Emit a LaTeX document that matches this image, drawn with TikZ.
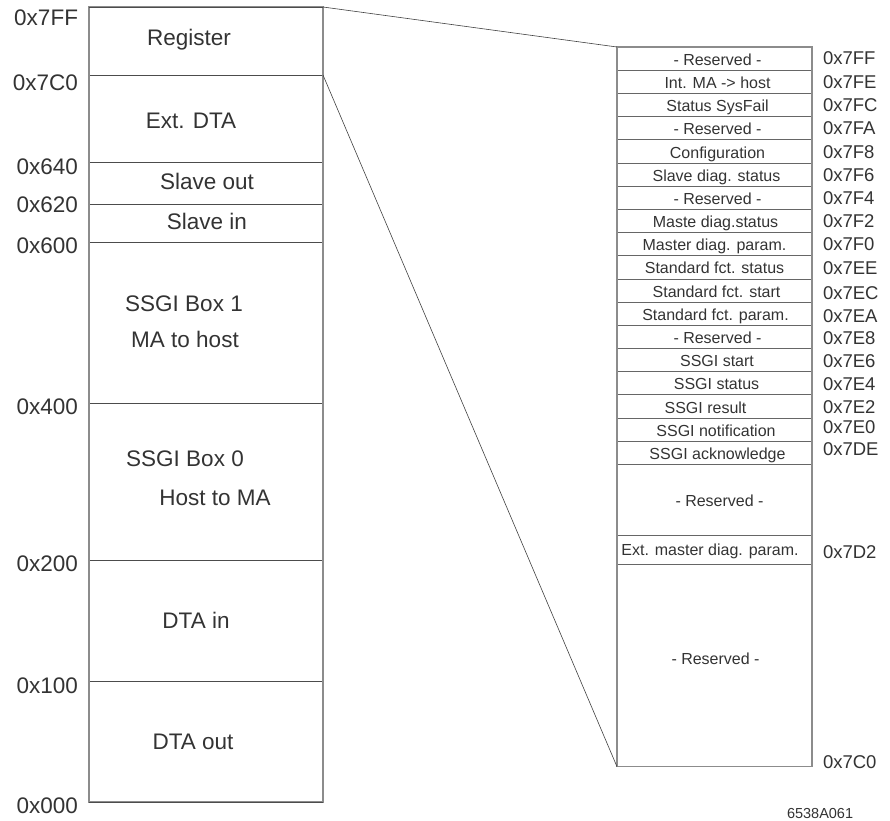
\documentclass[tikz,border=0pt]{standalone}
\usepackage{fontspec}
\setmainfont{Liberation Sans}
\begin{document}
\begin{tikzpicture}[x=1pt,y=-1pt,
  txt/.style={text=black!80, inner sep=0pt, outer sep=0pt, text depth=0pt},
  big/.style={txt, font=\fontsize{22.5}{24}\selectfont, text height=16.1pt},
  mid/.style={txt, font=\fontsize{18.5}{20}\selectfont, text height=13.25pt},
  small/.style={txt, font=\fontsize{16}{18}\selectfont, text height=11.46pt},
  sec/.style={inner sep=0pt, outer sep=0pt, minimum width=234pt},
  row/.style={draw=black!60, line width=0.6pt, inner sep=0pt, outer sep=0pt, minimum width=195pt},
  sep/.style={draw=black!70, line width=0.6pt},
  frame/.style={draw=black!45, line width=1.1pt},
  conn/.style={draw=black!75, line width=0.6pt}]
\useasboundingbox (0,0) rectangle (890,820);

% left sections
\node[sec, minimum height=68pt]  (reg)    at (206,41)    {};
\node[sec, minimum height=87pt]  (extdta) at (206,118.5) {};
\node[sec, minimum height=42pt]  (slout)  at (206,183)   {};
\node[sec, minimum height=38pt]  (slin)   at (206,223)   {};
\node[sec, minimum height=161pt] (boxa)   at (206,322.5) {};
\node[sec, minimum height=157pt] (boxb)   at (206,481.5) {};
\node[sec, minimum height=121pt] (dtain)  at (206,620.5) {};
\node[sec, minimum height=121pt] (dtaout) at (206,741.5) {};

\foreach \n in {reg,extdta,slout,slin,boxa,boxb,dtain}
  \draw[sep] (\n.south west) -- (\n.south east);
\draw[frame] (reg.north west) rectangle (dtaout.south east);
\draw[sep] (reg.north west) -- (reg.north east);
\draw[sep] (dtaout.south west) -- (dtaout.south east);

% left labels
\node[big] (lreg)   at (189,37.5)  {Register};
\node[big] (lext)   at (191,120.5) {Ext. DTA};
\node[big] (lslo)   at (207,181)   {Slave out};
\node[big] (lsli)   at (207,221)   {Slave in};
\node[big] (lba)    at (184,303.5) {SSGI Box 1};
\node[big] (lbaa)   at (185,339)   {MA to host};
\node[big] (lbb)    at (185,458.5) {SSGI Box 0};
\node[big] (lbbb)   at (215,497)   {Host to MA};
\node[big] (ldin)   at (196,620)   {DTA in};
\node[big] (ldout)  at (193,741)   {DTA out};

% left addresses
\node[big, anchor=east] (a7ff) at (78,17)    {0x7FF};
\node[big, anchor=east] (a7c0) at (78,82)    {0x7C0};
\node[big, anchor=east] (a640) at (78,166)   {0x640};
\node[big, anchor=east] (a620) at (78,204.5) {0x620};
\node[big, anchor=east] (a600) at (78,245.5) {0x600};
\node[big, anchor=east] (a400) at (78,406.5) {0x400};
\node[big, anchor=east] (a200) at (78,563.5) {0x200};
\node[big, anchor=east] (a100) at (78,685.5) {0x100};
\node[big, anchor=east] (a000) at (78,805)   {0x000};

% right rows
\foreach \i/\t/\dx in {1/{- Reserved -}/3, 2/{Int. MA -> host}/3, 3/{Status SysFail}/3,
  4/{- Reserved -}/3, 5/{Configuration}/3, 6/{Slave diag. status}/2, 7/{- Reserved -}/3,
  8/{Maste diag.status}/1, 9/{Master diag. param.}/0, 10/{Standard fct. status}/0,
  11/{Standard fct. start}/2, 12/{Standard fct. param.}/1, 13/{- Reserved -}/3,
  14/{SSGI start}/2.5, 15/{SSGI status}/2, 16/{SSGI result}/-9, 17/{SSGI notification}/1.5,
  18/{SSGI acknowledge}/3}
{
  \node[row, minimum height=23.18pt] (r\i) at (714.5,{47+23.18*(\i-0.5)}) {};
  \node[small, xshift=\dx pt, yshift=-1pt] (t\i) at (r\i.center) {\t};
}
\node[row, minimum height=71.4pt]  (r19) at (714.5,500)    {};
\node[row, minimum height=28.3pt]  (r20) at (714.5,549.85) {};
\node[row, minimum height=202.7pt] (r21) at (714.5,665.35) {};
\node[small, xshift=5pt, yshift=-1pt] (t19) at (r19.center) {- Reserved -};
\node[small, xshift=-4.5pt] (t20) at (r20.center) {Ext. master diag. param.};
\node[small, xshift=1pt, yshift=7pt] (t21) at (r21.center) {- Reserved -};
\draw[frame] (r1.north west) rectangle (r21.south east);

% right addresses
\foreach \nm/\y/\t in {b1/58.3/0x7FF, b2/81.7/0x7FE, b3/105/0x7FC, b4/128/0x7FA,
  b5/151.7/0x7F8, b6/174.7/0x7F6, b7/198/0x7F4, b8/221/0x7F2, b9/244/0x7F0,
  b10/268/0x7EE, b11/292.7/0x7EC, b12/316/0x7EA, b13/338/0x7E8, b14/361/0x7E6,
  b15/384/0x7E4, b16/407/0x7E2, b17/426.7/0x7E0, b18/449/0x7DE, b19/552/0x7D2,
  b20/762/0x7C0}
  \node[mid, anchor=west] (\nm) at (823,\y) {\t};

% connectors
\draw[conn] (reg.north east) -- (r1.north west);
\draw[conn] (reg.south east) -- (r21.south west);

% figure code
\node[txt, font=\fontsize{14.5}{16}\selectfont, anchor=base west] (code) at (787,818.5) {6538A061};
\end{tikzpicture}
\end{document}
